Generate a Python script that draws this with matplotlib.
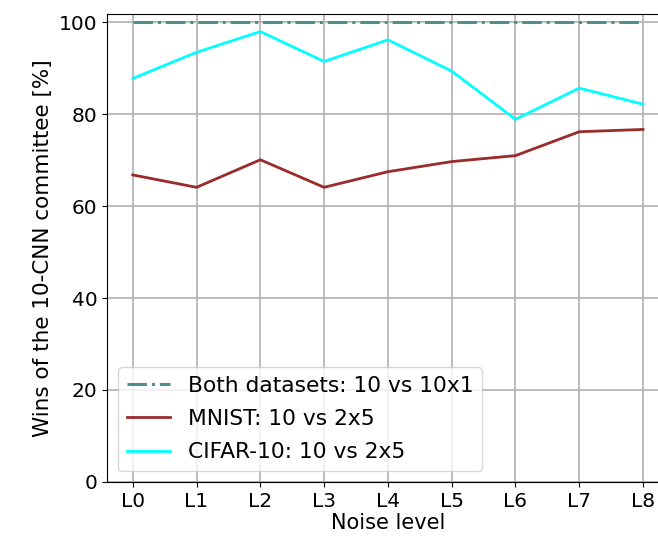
import numpy as np
import matplotlib.pyplot as plt

levels = ["L0", "L1", "L2", "L3", "L4", "L5", "L6", "L7", "L8"]
both_wins = [100, 100, 100, 100, 100, 100, 100, 100, 100]
mnist_wins = [66.8, 64.1, 70.1, 64.1, 67.5, 69.7, 71.0, 76.2, 76.7]
cifar_wins = [87.8, 93.5, 98.0, 91.5, 96.2, 89.4, 78.9, 85.7, 82.2]

plt.rcParams["font.size"] = 15
plt.rcParams["xtick.labelsize"] = 14.5
plt.rcParams["ytick.labelsize"] = 14.5

fig = plt.figure(figsize=(6.58, 5.45), dpi=100)
# right edge of the axes runs past the figure, as in the cropped original
ax = fig.add_axes([0.163, 0.116, 0.853, 0.858])

x = np.arange(len(levels))
ax.plot(x, both_wins, color="#4f8f8f", linestyle="-.", lw=2.2, label="Both datasets: 10 vs 10x1")
ax.plot(x, mnist_wins, color="#9b2a2a", lw=2, label="MNIST: 10 vs 2x5")
ax.plot(x, cifar_wins, color="cyan", lw=2, label="CIFAR-10: 10 vs 2x5")

ax.set_xticks(x)
ax.set_xticklabels(levels)
ax.set_ylim(bottom=0)
ax.set_xlabel("Noise level", labelpad=2)
ax.set_ylabel("Wins of the 10-CNN committee [%]", fontsize=15.5)
ax.grid(True, color="#b0b0b0", lw=1.2)
ax.spines["right"].set_visible(False)
ax.legend(loc="lower left", fontsize=15.7, labelspacing=0.6)

fig.savefig("out.png", dpi=100)
